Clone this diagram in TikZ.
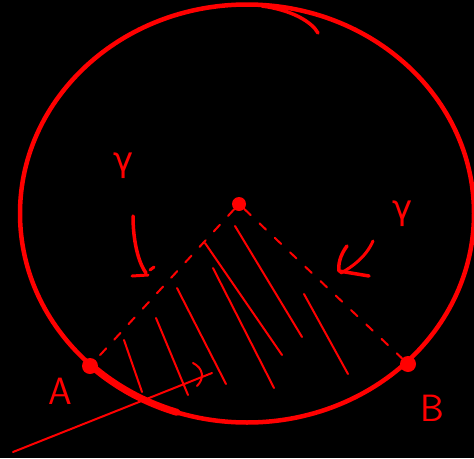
\documentclass[tikz,border=0pt]{standalone}
\usepackage{fontspec}
\setmainfont{DejaVu Sans}
\begin{document}
\begin{tikzpicture}[x=1pt,y=-1pt,
  ink/.style={draw=red, line cap=round, line join=round},
  thick ink/.style={ink, line width=4.5pt},
  hatch/.style={ink, line width=2pt},
  dotpt/.style={circle, fill=red, inner sep=0pt, minimum size=16pt},
  lbl/.style={text=red, font=\fontsize{38}{38}\selectfont\sffamily},
  glbl/.style={text=red, font=\fontsize{34}{34}\selectfont}]
\fill[black] (0,0) rectangle (474,458);
\useasboundingbox (0,0) rectangle (474,458);
% circle
\coordinate (c) at (247,213.5);
\draw[thick ink] (c) ellipse [x radius=227, y radius=209];
\draw[ink, line width=3.5pt] (262,6) .. controls (292,10) and (312,22) .. (318,33);
% thicker arc near A
\draw[ink, line width=7pt] (c) ++(134:227 and 209) arc [start angle=134, end angle=108, x radius=227, y radius=209];
% points
\node[dotpt] (A) at (90,366) {};
\node[dotpt] (B) at (408,364) {};
\node[dotpt, minimum size=14pt] (O) at (239,204) {};
% dashed radii
\draw[ink, line width=2pt, dash pattern=on 9pt off 12pt] (O) -- (A);
\draw[ink, line width=2pt, dash pattern=on 9pt off 12pt] (O) -- (B);
% hatching
\draw[hatch] (124,340) -- (142,392);
\draw[hatch] (156,318) -- (188,395);
\draw[hatch] (177,288) -- (226,384);
\draw[hatch] (213,268) -- (274,388);
\draw[hatch] (205,243) -- (282,355);
\draw[hatch] (235,226) -- (302,337);
\draw[hatch] (304,294) -- (348,374);
% lower arrow
\coordinate (s) at (13,452);
\coordinate (t) at (212,373);
\draw[ink, line width=2pt] (s) -- (t);
\draw[ink, line width=2pt] (193,363) .. controls (203,368) and (205,378) .. (197,386);
% left arrow
\coordinate (la1) at (133,216);
\coordinate (la2) at (146,273);
\draw[ink, line width=3.5pt] (la1) .. controls (133,240) and (138,262) .. (la2);
\draw[ink, line width=3pt] (132,276) -- (148,275);
\draw[ink, line width=3pt] (150,270) -- (154,267);
% right arrow
\coordinate (ra1) at (373,241);
\coordinate (ra2) at (341,273);
\draw[ink, line width=3pt] (ra1) .. controls (366,257) and (352,267) .. (ra2);
\draw[ink, line width=3.5pt] (347,246) .. controls (340,255) and (338,265) .. (339,271) -- (369,276);
% labels
\node[glbl] (g1) at (124,166) {γ};
\node[glbl] (g2) at (403,214) {γ};
\node[lbl] (la) at (60,391) {A};
\node[lbl] (lb) at (432,408) {B};
\end{tikzpicture}
\end{document}
